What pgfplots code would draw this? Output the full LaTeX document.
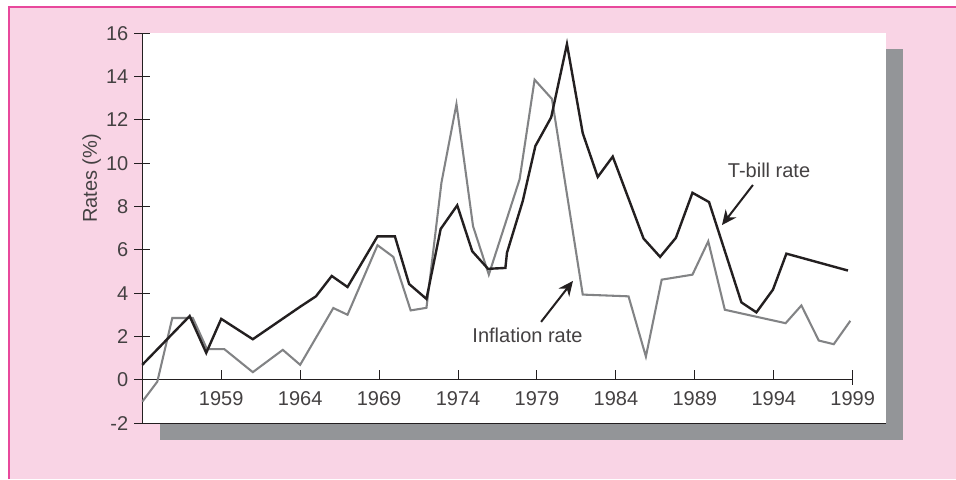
\documentclass[border=0pt]{standalone}
\usepackage{fontspec}
\setmainfont{Liberation Sans}
\usepackage{pgfplots}
\pgfplotsset{compat=1.18}
\usetikzlibrary{arrows.meta}
\definecolor{pinkbg}{RGB}{249,212,229}
\definecolor{framecol}{RGB}{232,72,156}
\definecolor{shadowcol}{RGB}{147,149,152}
\definecolor{tbill}{RGB}{35,31,32}
\definecolor{infl}{RGB}{130,131,133}

\pgfplotstableread{
year rate
1954.0 0.70
1957.0 2.95
1958.05 1.25
1959.0 2.82
1961.0 1.88
1964.0 3.38
1965.0 3.86
1966.0 4.80
1967.0 4.29
1968.9 6.63
1970.0 6.63
1970.9 4.43
1972.0 3.74
1972.9 6.97
1973.95 8.06
1974.9 5.94
1975.9 5.13
1977.0 5.17
1977.1 5.87
1978.1 8.26
1978.9 10.80
1979.9 12.12
1980.9 15.50
1981.9 11.39
1982.85 9.37
1983.8 10.31
1985.75 6.53
1986.8 5.68
1987.8 6.56
1988.85 8.64
1989.9 8.21
1991.95 3.58
1992.9 3.12
1993.95 4.17
1994.8 5.83
1998.7 5.05
}\tbilldata

\pgfplotstableread{
year rate
1954.0 -1.00
1954.95 -0.08
1955.9 2.86
1957.2 2.86
1958.1 1.42
1959.2 1.42
1961.0 0.36
1962.9 1.39
1964.0 0.70
1966.1 3.32
1967.0 3.01
1968.9 6.22
1969.9 5.68
1971.0 3.21
1972.0 3.33
1972.95 9.11
1973.9 12.73
1974.95 7.10
1975.95 4.86
1977.9 9.26
1978.85 13.86
1979.95 12.97
1981.9 3.94
1984.8 3.86
1985.9 1.08
1986.9 4.63
1988.85 4.86
1989.85 6.40
1990.9 3.24
1994.75 2.62
1995.75 3.44
1996.85 1.82
1997.8 1.65
1998.85 2.73
}\infldata

\begin{document}
\begin{tikzpicture}[font=\fontsize{15}{18}\selectfont]
% page and background panels (1 unit = 1 px of the reference)
\begin{scope}[x=0.75pt, y=0.75pt]
\path[use as bounding box] (-142.3,-55.7) rectangle (813.7,423.3);
\fill[pinkbg] (-133.3,-55.7) rectangle (813.7,416.3);
\draw[framecol, line width=1.1pt] (-133.3,-55.7) -- (-133.3,416.3) -- (813.7,416.3);
\fill[shadowcol] (17.7,-16.7) rectangle (760.7,374.3);
\fill[white] (0,0) rectangle (743.7,390);
\end{scope}

\begin{axis}[
    at={(0,0)}, anchor=south west,
    scale only axis, width=532.8pt, height=292.5pt,
    xmin=1954, xmax=1999, ymin=-2, ymax=16,
    axis x line=middle, axis y line=left,
    axis line style={-, line width=0.75pt, color=tbill},
    clip=false,
    ytick={-2,0,2,4,6,8,10,12,14,16},
    ytick align=center, major tick length=12pt,
    y tick style={line width=0.75pt, color=tbill},
    xtick={1959,1964,1969,1974,1979,1984,1989,1994,1999},
    xticklabels={1959,1964,1969,1974,1979,1984,1989,1994,1999},
    x tick style={draw=none},
    /pgf/number format/assume math mode=true,
    tick label style={font=\fontsize{15}{18}\selectfont, text=tbill!85},
    yticklabel style={anchor=east, xshift=-1pt},
    xticklabel style={anchor=north, yshift=1pt},
]
\addplot[infl, line width=1.55pt] table[x=year, y=rate] {\infldata};
\addplot[tbill, line width=1.8pt] table[x=year, y=rate] {\tbilldata};

\draw[tbill, line width=0.75pt] (axis cs:1959,0) -- (axis cs:1959,0.46);
\draw[tbill, line width=0.75pt] (axis cs:1964,0) -- (axis cs:1964,0.46);
\draw[tbill, line width=0.75pt] (axis cs:1969,0) -- (axis cs:1969,0.46);
\draw[tbill, line width=0.75pt] (axis cs:1974,0) -- (axis cs:1974,0.46);
\draw[tbill, line width=0.75pt] (axis cs:1979,0) -- (axis cs:1979,0.46);
\draw[tbill, line width=0.75pt] (axis cs:1984,0) -- (axis cs:1984,0.46);
\draw[tbill, line width=0.75pt] (axis cs:1989,0) -- (axis cs:1989,0.46);
\draw[tbill, line width=0.75pt] (axis cs:1994,0) -- (axis cs:1994,0.46);
\draw[tbill, line width=0.75pt] (axis cs:1999,-0.23) -- (axis cs:1999,0.46);

\node[xshift=-38pt, rotate=90, text=tbill!85] at (axis cs:1954,9.3) {Rates (\%)};

\node[text=tbill!85] at (axis cs:1993.7,9.69) {T-bill rate};
\draw[tbill, line width=1.5pt, -{Stealth[length=11pt, width=10pt]}]
  (axis cs:1992.68,9.0) -- (axis cs:1990.72,7.15);
\node[text=tbill!85] at (axis cs:1978.4,2.08) {Inflation rate};
\draw[tbill, line width=1.5pt, -{Stealth[length=11pt, width=10pt]}]
  (axis cs:1979.26,2.68) -- (axis cs:1981.28,4.57);
\end{axis}
\draw[tbill, line width=0.75pt] (0,0) -- (557.8pt,0);
\end{tikzpicture}
\end{document}
